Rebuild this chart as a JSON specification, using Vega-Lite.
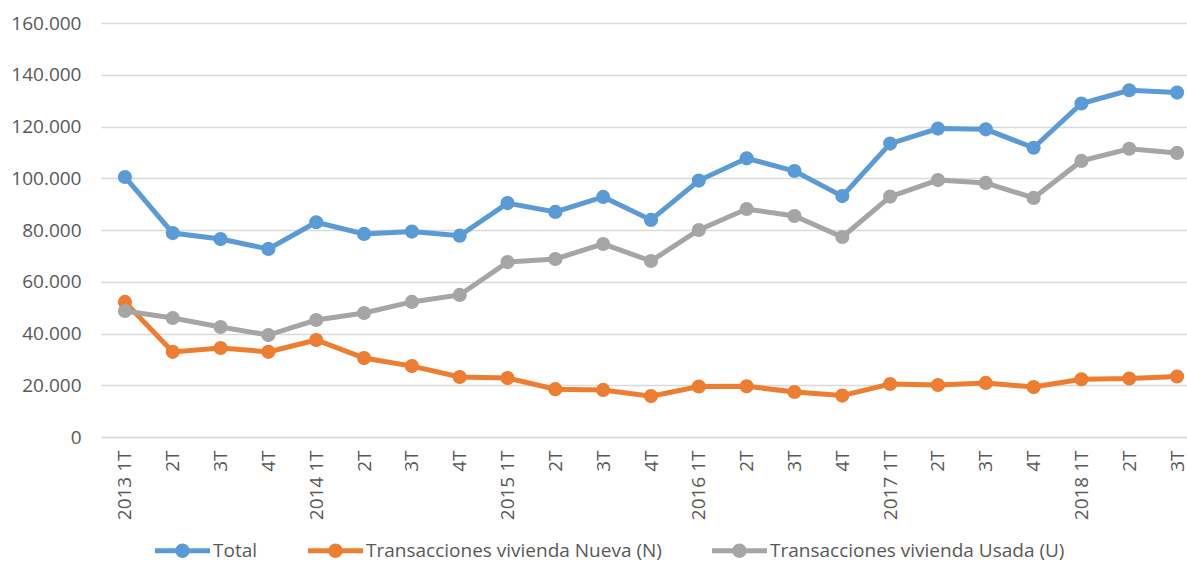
{
  "$schema": "https://vega.github.io/schema/vega-lite/v6.json",
  "autosize": "none",
  "width": 1100,
  "height": 414,
  "padding": {"left": 101, "top": 23, "right": 0, "bottom": 126},
  "background": "white",
  "config": {
    "view": {"stroke": null},
    "font": "Open Sans"
  },
  "datasets": {
    "d": [
      {"periodo": "2013 1T", "Total": 100500, "Nueva": 52200, "Usada": 48700},
      {"periodo": "2013 2T", "Total": 78800, "Nueva": 32900, "Usada": 46000},
      {"periodo": "2013 3T", "Total": 76500, "Nueva": 34400, "Usada": 42500},
      {"periodo": "2013 4T", "Total": 72700, "Nueva": 32900, "Usada": 39400},
      {"periodo": "2014 1T", "Total": 83000, "Nueva": 37500, "Usada": 45200},
      {"periodo": "2014 2T", "Total": 78500, "Nueva": 30500, "Usada": 47900},
      {"periodo": "2014 3T", "Total": 79400, "Nueva": 27400, "Usada": 52200},
      {"periodo": "2014 4T", "Total": 77800, "Nueva": 23200, "Usada": 54900},
      {"periodo": "2015 1T", "Total": 90400, "Nueva": 22800, "Usada": 67600},
      {"periodo": "2015 2T", "Total": 87000, "Nueva": 18500, "Usada": 68800},
      {"periodo": "2015 3T", "Total": 92800, "Nueva": 18200, "Usada": 74600},
      {"periodo": "2015 4T", "Total": 83900, "Nueva": 15800, "Usada": 68000},
      {"periodo": "2016 1T", "Total": 99100, "Nueva": 19500, "Usada": 80000},
      {"periodo": "2016 2T", "Total": 107700, "Nueva": 19600, "Usada": 88100},
      {"periodo": "2016 3T", "Total": 102800, "Nueva": 17400, "Usada": 85400},
      {"periodo": "2016 4T", "Total": 93100, "Nueva": 16000, "Usada": 77300},
      {"periodo": "2017 1T", "Total": 113400, "Nueva": 20500, "Usada": 92900},
      {"periodo": "2017 2T", "Total": 119200, "Nueva": 20100, "Usada": 99300},
      {"periodo": "2017 3T", "Total": 118900, "Nueva": 20900, "Usada": 98200},
      {"periodo": "2017 4T", "Total": 111800, "Nueva": 19300, "Usada": 92400},
      {"periodo": "2018 1T", "Total": 128900, "Nueva": 22300, "Usada": 106700},
      {"periodo": "2018 2T", "Total": 134000, "Nueva": 22600, "Usada": 111400},
      {"periodo": "2018 3T", "Total": 133100, "Nueva": 23400, "Usada": 109800}
    ]
  },
  "data": {"name": "d"},
  "transform": [
    {"fold": ["Total", "Nueva", "Usada"], "as": ["key", "valor"]},
    {"calculate": "datum.key === 'Total' ? 'Total' : datum.key === 'Nueva' ? 'Transacciones vivienda Nueva (N)' : 'Transacciones vivienda Usada (U)'", "as": "serie"}
  ],
  "encoding": {
    "x": {
      "field": "periodo", "type": "ordinal", "sort": null,
      "scale": {"type": "point", "padding": 0.5},
      "axis": {
        "title": null, "labelAngle": -90, "ticks": false, "domainColor": "#D9D9D9", "domainWidth": 1.5,
        "labelPadding": 13, "labelFont": "Open Sans", "labelFontSize": 19, "labelColor": "#595959",
        "labelExpr": "substring(datum.value, 5) === '1T' ? datum.value : substring(datum.value, 5)"
      }
    },
    "y": {
      "field": "valor", "type": "quantitative",
      "scale": {"domain": [0, 160000], "nice": false},
      "axis": {
        "title": null, "values": [0, 20000, 40000, 60000, 80000, 100000, 120000, 140000, 160000],
        "domain": false, "ticks": false, "gridColor": "#D9D9D9", "gridWidth": 1.5, "labelPadding": 20,
        "labelFont": "Open Sans", "labelFontSize": 19, "labelColor": "#595959",
        "labelExpr": "datum.value === 0 ? '0' : format(datum.value / 1000, 'd') + '.000'"
      }
    },
    "color": {
      "field": "serie", "type": "nominal",
      "scale": {
        "domain": ["Total", "Transacciones vivienda Nueva (N)", "Transacciones vivienda Usada (U)"],
        "range": ["#5B9BD5", "#ED7D31", "#A5A5A5"]
      },
      "legend": {
        "title": null, "orient": "none", "direction": "horizontal", "legendX": 54, "legendY": 500,
        "symbolType": "M-1,-0.09 H1 V0.09 H-1 Z M-0.26,0 A0.26,0.26 0 1,1 0.26,0 A0.26,0.26 0 1,1 -0.26,0 Z",
        "symbolSize": 3025, "symbolStrokeWidth": 0, "symbolOpacity": 1,
        "labelFont": "Open Sans", "labelFontSize": 19, "labelColor": "#595959", "labelOffset": 3,
        "labelLimit": 400, "columnPadding": 50
      }
    }
  },
  "layer": [
    {"mark": {"type": "line", "strokeWidth": 5}},
    {"mark": {"type": "point", "filled": true, "size": 200, "opacity": 1}}
  ]
}
